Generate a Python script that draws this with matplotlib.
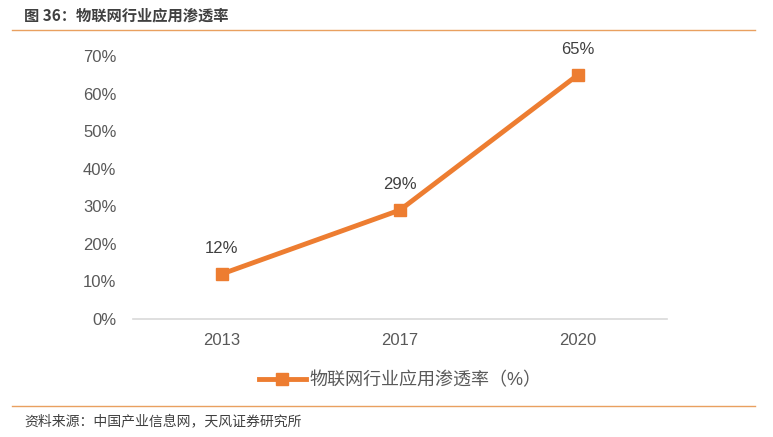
import matplotlib
matplotlib.use("Agg")
import matplotlib.pyplot as plt

years = ["2013", "2017", "2020"]
rates = [12, 29, 65]
series_name = "物联网行业应用渗透率（%）"
title = "图 36：物联网行业应用渗透率"
source = "资料来源：中国产业信息网，天风证券研究所"
y_ticks = [0, 10, 20, 30, 40, 50, 60, 70]

plt.rcParams['font.family'] = ['Liberation Sans', 'Noto Sans CJK SC', 'DejaVu Sans']

orange = "#ED7D31"
gray = "#595959"

fig = plt.figure(figsize=(7.73, 4.37), dpi=100)
ax = fig.add_axes([0.172, 0.270, 0.691, 0.602])

x = range(len(years))
ax.plot(x, rates, color=orange, linewidth=3.5, marker='s', markersize=8,
        label=series_name)
for xi, v in zip(x, rates):
    ax.annotate(f"{v}%", (xi, v), xytext=(0, 13), textcoords="offset points",
                ha="center", va="bottom", fontsize=12, color="#404040")

ax.set_xlim(-0.5, 2.5)
ax.set_ylim(0, 70)
ax.set_xticks(list(x))
ax.set_xticklabels(years)
ax.set_yticks(y_ticks)
ax.set_yticklabels([f"{t}%" for t in y_ticks])
ax.tick_params(axis='both', length=0, labelsize=12, labelcolor=gray)
ax.tick_params(axis='x', pad=10)
ax.tick_params(axis='y', pad=12)
for s in ["top", "right", "left"]:
    ax.spines[s].set_visible(False)
ax.spines["bottom"].set_color("#D9D9D9")
ax.spines["bottom"].set_linewidth(1.2)

leg = ax.legend(loc="upper center", bbox_to_anchor=(0.5, -0.14), frameon=False,
                fontsize=13, handlelength=2.6, handletextpad=0.2)
for t in leg.get_texts():
    t.set_color(gray)

# header and footer
fig.text(0.031, 0.965, title, fontsize=11, fontweight="bold", color="#404040",
         va="center", family=['Noto Sans CJK SC', 'DejaVu Sans'])
fig.add_artist(plt.Line2D([0.016, 0.977], [0.931, 0.931], color="#E9A060", linewidth=1))
fig.add_artist(plt.Line2D([0.016, 0.977], [0.071, 0.071], color="#E9A060", linewidth=1))
fig.text(0.031, 0.036, source, fontsize=10, color="#404040", va="center",
         family=['Noto Sans CJK SC', 'DejaVu Sans'])

fig.savefig("out.png", dpi=100)
